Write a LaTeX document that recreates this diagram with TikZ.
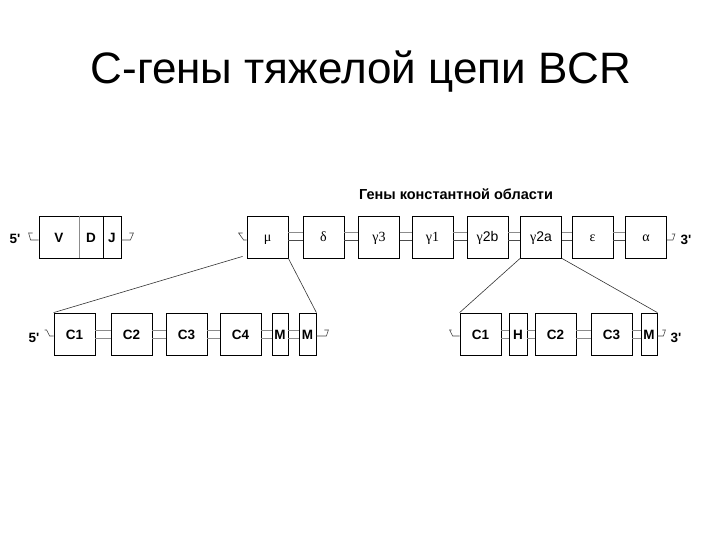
\documentclass[tikz,border=0pt]{standalone}
\usepackage{fontspec}
\setmainfont{Liberation Sans}
\newfontfamily\grk{Liberation Serif}
\begin{document}
\begin{tikzpicture}[x=1pt,y=-1pt,
  gbox/.style={draw=black, line width=0.8pt, minimum height=42pt, minimum width=41pt, inner sep=0pt, text height=10pt, text depth=0pt, font=\fontsize{13.5}{14}\selectfont\bfseries},
  greek/.style={gbox, text height=9pt, text depth=0pt, font=\fontsize{14}{15}\selectfont\grk},
  link/.style={draw=black!45, line width=0.7pt},
  linkd/.style={draw=black!70, line width=0.7pt},
  hookl/.style={draw=black!75, line width=0.6pt},
  expl/.style={draw=black!80, line width=0.6pt},
  endlab/.style={inner sep=0pt, font=\fontsize{13.5}{14}\selectfont\bfseries}]
\useasboundingbox (0,0) rectangle (720,540);
\node[anchor=base, inner sep=0pt, font=\fontsize{44}{46}\selectfont] (title) at (361,84) {С-гены тяжелой цепи BCR};
\node[anchor=base, inner sep=0pt, font=\fontsize{14.5}{15}\selectfont\bfseries] (sub) at (456,200) {Гены константной области};
% top row
\node[gbox, minimum width=40pt] (V) at (59,237) {V};
\node[gbox, minimum width=24pt] (D) at (91,237) {D};
\node[gbox, minimum width=18pt] (J) at (112,237) {J};
\draw[black!45, line width=0.8pt] (V.north east) -- (V.south east);
\node[greek] (mu) at (267.5,237) {μ};
\node[greek] (delta) at (323.5,237) {δ};
\node[greek] (g3) at (379,237) {γ3};
\node[greek] (g1) at (432.5,237) {γ1};
\node[greek] (g2b) at (487.5,237) {γ{\normalfont 2b}};
\node[greek] (g2a) at (541,237) {γ{\normalfont 2a}};
\node[greek] (eps) at (592.5,237) {ε};
\node[greek] (alpha) at (646,237) {α};
\foreach \a/\b in {mu/delta,delta/g3,g3/g1,g1/g2b,g2b/g2a,g2a/eps,eps/alpha}{
  \draw[link] ([yshift=5pt]\a.east) -- ([yshift=5pt]\b.west);
  \draw[linkd] ([yshift=-3pt]\a.east) -- ([yshift=-3pt]\b.west);
}
\node[endlab] (p5a) at (15,239) {5\textquotesingle};
\node[endlab] (p3a) at (686,240) {3\textquotesingle};
\draw[hookl] ([yshift=-3pt]V.west) -- ++(-8,0) -- ++(-2,-7) -- ++(4,0);
\draw[hookl] ([yshift=-3pt]J.east) -- ++(9,0) -- ++(3,-7) -- ++(-4,0);
\draw[hookl] ([yshift=-3pt]mu.west) -- ++(-3,0) -- ++(-5,-7) -- ++(4,0);
\draw[hookl] ([yshift=-3pt]alpha.east) -- ++(6,0) -- ++(2,-6) -- ++(-3,0);
% bottom left row
\node[gbox] (lC1) at (74.5,334) {C1};
\node[gbox] (lC2) at (131.5,334) {C2};
\node[gbox] (lC3) at (186.5,334) {C3};
\node[gbox] (lC4) at (240.5,334) {C4};
\node[gbox, minimum width=16pt] (lM1) at (280,334) {M};
\node[gbox, minimum width=17pt] (lM2) at (307.5,334) {M};
\foreach \a/\b in {lC1/lC2,lC2/lC3,lC3/lC4,lC4/lM1,lM1/lM2}{
  \draw[link] ([yshift=4pt]\a.east) -- ([yshift=4pt]\b.west);
  \draw[link] ([yshift=-4pt]\a.east) -- ([yshift=-4pt]\b.west);
}
\node[endlab] (p5b) at (34,338) {5\textquotesingle};
\draw[hookl] ([yshift=-2pt]lC1.west) -- ++(-4,0) -- ++(-3,-6) -- ++(-2,0);
\draw[hookl] ([yshift=-2pt]lM2.east) -- ++(10,0) -- ++(2,-6) -- ++(-4,0);
% bottom right row
\node[gbox] (rC1) at (480.5,334) {C1};
\node[gbox, minimum width=18pt] (rH) at (518,334) {H};
\node[gbox] (rC2) at (555.5,334) {C2};
\node[gbox] (rC3) at (611.5,334) {C3};
\node[gbox, minimum width=16pt] (rM) at (649,334) {M};
\foreach \a/\b in {rC1/rH,rH/rC2,rC2/rC3,rC3/rM}{
  \draw[link] ([yshift=4pt]\a.east) -- ([yshift=4pt]\b.west);
  \draw[link] ([yshift=-4pt]\a.east) -- ([yshift=-4pt]\b.west);
}
\node[endlab] (p3b) at (676,338) {3\textquotesingle};
\draw[hookl] ([yshift=-2pt]rC1.west) -- ++(-7,0) -- ++(-3,-6) -- ++(2,0);
\draw[hookl] ([yshift=-2pt]rM.east) -- ++(6,0) -- ++(2,-6) -- ++(-3,0);
% expansion lines
\draw[expl] ([xshift=-4pt,yshift=2pt]mu.south west) -- (lC1.north west);
\draw[expl] (mu.south east) -- (lM2.north east);
\draw[expl] (g2a.south west) -- (rC1.north west);
\draw[expl] (g2a.south east) -- (rM.north east);
\end{tikzpicture}
\end{document}
